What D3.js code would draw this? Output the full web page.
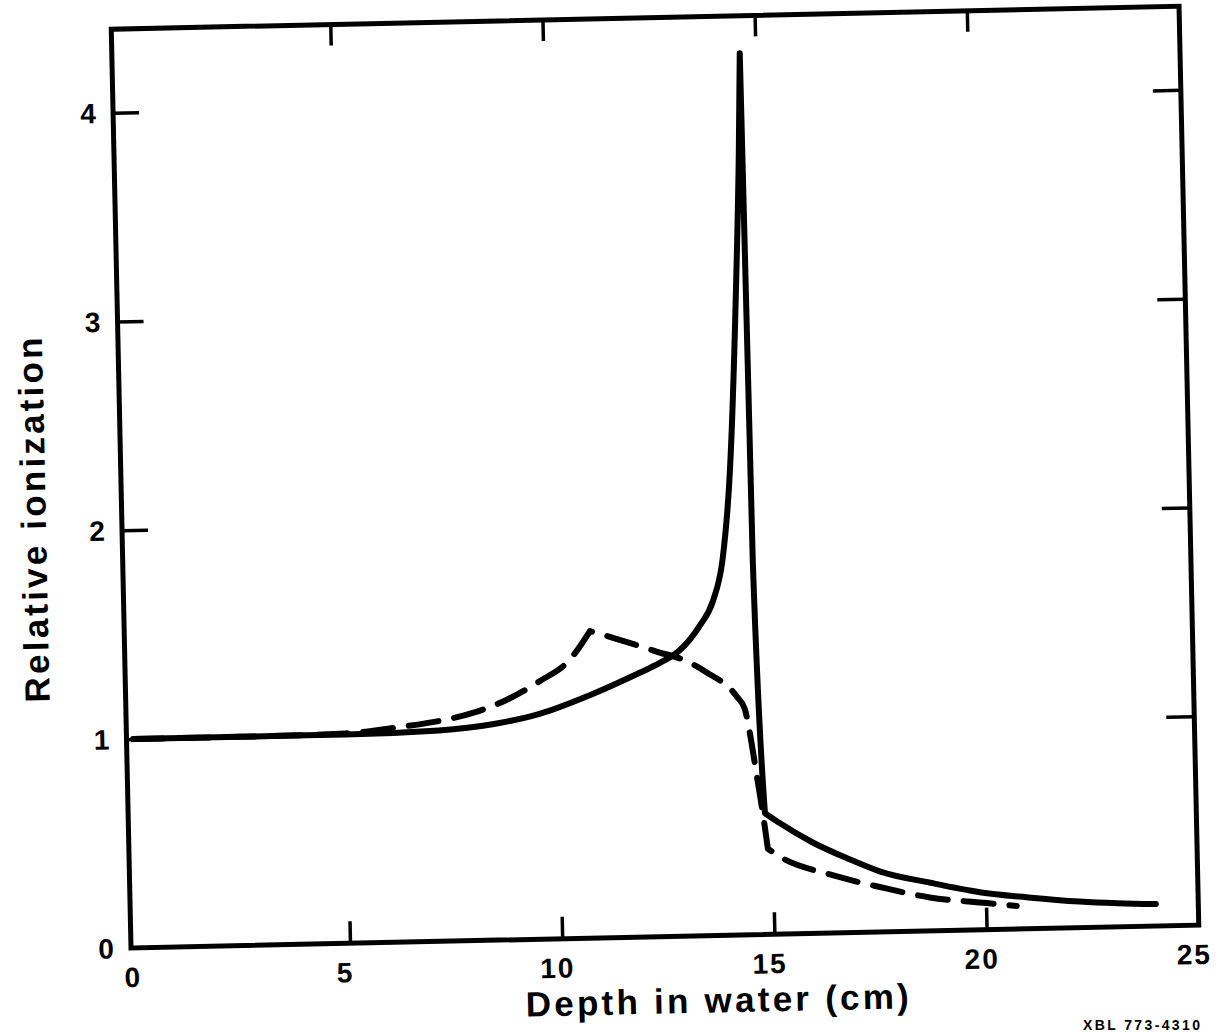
<!DOCTYPE html>
<html>
<head>
<meta charset="utf-8">
<script src="https://cdn.jsdelivr.net/npm/d3@7"></script>
<style>
  html, body { margin: 0; padding: 0; background: #fff; }
  svg { display: block; }
</style>
</head>
<body>
<script>
// ---- data ----
const xTickValues = [5, 10, 15, 20];
const xLabelValues = [0, 5, 10, 15, 20, 25];
const yTickValues = [1, 2, 3, 4];
const yLabelValues = [0, 1, 2, 3, 4];
const xTitle = "Depth in water (cm)";
const yTitle = "Relative ionization";
const figureCode = "XBL 773-4310";

// solid curve (pristine Bragg peak)
const solidDepth = [0, 2.5, 5, 7.2, 8.5, 9.6, 10.8, 11.96, 12.44, 12.92, 13.4, 13.72, 13.97, 14.19, 14.41, 14.56, 14.63,
                    14.68, 14.84,
                    15.19, 15.95, 16.74, 17.51, 18.7, 19.86, 21.0, 22.2, 23.1, 24.0];
const solidIon   = [1.0, 1.0, 1.0, 1.01, 1.035, 1.08, 1.165, 1.265, 1.31, 1.37, 1.485, 1.6, 1.8, 2.23, 3.04, 3.76, 4.22,
                    1.79, 0.58,
                    0.53, 0.435, 0.357, 0.29, 0.23, 0.18, 0.15, 0.125, 0.113, 0.105];
const solidCorners = [14.63, 14.84];

// dashed curve (spread-out beam)
const dashDepth = [0, 3, 5, 6.28, 7.06, 8.01, 8.82, 9.6, 10.32, 10.81,
                   11.58, 12.44, 12.91, 13.54, 14.24, 14.42, 14.52, 14.67, 14.79, 14.89,
                   15.17, 16.34, 17.51, 18.68, 20.02, 20.72];
const dashIon   = [1.0, 1.0, 1.005, 1.03, 1.05, 1.09, 1.15, 1.235, 1.335, 1.47,
                   1.42, 1.36, 1.33, 1.26, 1.14, 1.08, 0.97, 0.755, 0.58, 0.41,
                   0.37, 0.28, 0.215, 0.16, 0.127, 0.11];
const dashCorners = [10.81, 14.89];

// ---- layout ----
const W = 1232, H = 1032;
const mLeft = 131, mTop = 29, pw = 1068, ph = 919;
const tilt = -1.23;

const svg = d3.select("body").append("svg").attr("width", W).attr("height", H)
  .style("font-family", "'Liberation Sans', Arial, Helvetica, sans-serif");
svg.append("rect").attr("width", W).attr("height", H).attr("fill", "#fff");

const rot = svg.append("g").attr("transform", `rotate(${tilt},${mLeft},${mTop + ph})`);
const g = rot.append("g").attr("transform", `translate(${mLeft},${mTop})`);

const x = d3.scaleLinear().domain([-0.16, 25]).range([0, pw]);
const y = d3.scaleLinear().domain([0, 4.4]).range([ph, 0]);

// frame
g.append("rect").attr("x", 0).attr("y", 0).attr("width", pw).attr("height", ph)
  .attr("fill", "none").attr("stroke", "#000").attr("stroke-width", 5);

function tickAxis(axis, transform) {
  const a = g.append("g").attr("transform", transform).call(axis);
  a.select(".domain").remove();
  a.selectAll(".tick line").attr("stroke", "#000").attr("stroke-width", 3.5);
  a.selectAll(".tick text").remove();
  return a;
}
tickAxis(d3.axisBottom(x).tickValues(xTickValues).tickSize(-22), `translate(0,${ph})`);
tickAxis(d3.axisTop(x).tickValues(xTickValues).tickSize(-21), `translate(0,0)`);
tickAxis(d3.axisLeft(y).tickValues(yTickValues).tickSize(-26), `translate(0,0)`);
tickAxis(d3.axisRight(y).tickValues(yTickValues).tickSize(-28), `translate(${pw},0)`);

// tick labels
g.append("g").selectAll("text").data(xLabelValues).join("text")
  .attr("x", d => x(d) - 5).attr("y", ph + 39)
  .attr("text-anchor", "middle").attr("font-size", 28).attr("font-weight", "bold")
  .attr("letter-spacing", 2)
  .text(d => d);
g.append("g").selectAll("text").data(yLabelValues).join("text")
  .attr("x", -25).attr("y", d => y(d) + 10)
  .attr("text-anchor", "middle").attr("font-size", 28).attr("font-weight", "bold")
  .text(d => d);

// axis titles
g.append("text").attr("x", 585).attr("y", ph + 77)
  .attr("text-anchor", "middle").attr("font-size", 35).attr("font-weight", "bold")
  .attr("textLength", 383).attr("lengthAdjust", "spacing")
  .text(xTitle);
g.append("text").attr("transform", `translate(-76,489) rotate(-90)`)
  .attr("text-anchor", "middle").attr("font-size", 35).attr("font-weight", "bold")
  .attr("textLength", 365).attr("lengthAdjust", "spacing")
  .text(yTitle);

// curves: smooth segments joined at sharp corners
function cornerPath(xs, ys, corners) {
  const pts = xs.map((d, i) => [d, ys[i]]);
  const line = d3.line().x(d => x(d[0])).y(d => y(d[1])).curve(d3.curveMonotoneX);
  const segs = [];
  let cur = [];
  pts.forEach(p => {
    cur.push(p);
    if (corners.includes(p[0])) { segs.push(cur); cur = [p]; }
  });
  if (cur.length > 1) segs.push(cur);
  return segs.map((s, i) => {
    const str = line(s);
    return i === 0 ? str : str.replace(/^M/, "L");
  }).join("");
}

g.append("path").attr("d", cornerPath(dashDepth, dashIon, dashCorners))
  .attr("fill", "none").attr("stroke", "#000").attr("stroke-width", 6)
  .attr("stroke-linecap", "round").attr("stroke-linejoin", "round")
  .attr("stroke-dasharray", "30,16");

g.append("path").attr("d", cornerPath(solidDepth, solidIon, solidCorners))
  .attr("fill", "none").attr("stroke", "#000").attr("stroke-width", 6)
  .attr("stroke-linecap", "round").attr("stroke-linejoin", "round");

// figure code at bottom right
svg.append("text").attr("x", 1083).attr("y", 1030)
  .attr("font-size", 14).attr("font-weight", "bold")
  .attr("textLength", 117).attr("lengthAdjust", "spacing")
  .text(figureCode);
</script>
</body>
</html>
